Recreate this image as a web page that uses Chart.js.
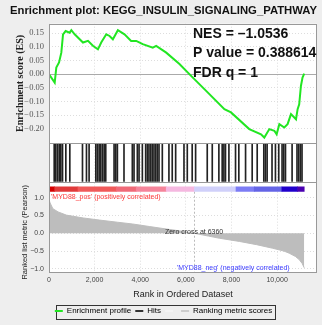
<!DOCTYPE html>
<html>
<head>
<meta charset="utf-8">
<script src="https://cdn.jsdelivr.net/npm/chart.js@4.4.1/dist/chart.umd.min.js"></script>
<style>
  html, body { margin: 0; padding: 0; background: #eeeeee; }
  #wrap { width: 322px; height: 325px; }
</style>
</head>
<body>
<div id="wrap"><canvas id="gsea" width="322" height="325"></canvas></div>
<script>
// running enrichment score (rank in list, ES)
const esRank = [0, 250, 320, 440, 540, 615, 730, 905, 980, 1125, 1490, 1710, 1925, 2145, 2290,
  2510, 2655, 2800, 3020, 3310, 3600, 3825, 4110, 4550, 4700, 5140, 5720, 6230, 6890, 7690,
  7980, 8780, 9295, 9440, 9660, 9880, 9980, 10100, 10315, 10460, 10610, 10830, 10900, 10970,
  11045, 11115, 11190];
const esScore = [0, -0.031, 0.024, 0.043, 0.079, 0.146, 0.158, 0.152, 0.161, 0.146, 0.116, 0.122,
  0.104, 0.091, 0.116, 0.146, 0.140, 0.128, 0.161, 0.146, 0.122, 0.122, 0.110, 0.097, 0.104,
  0.079, 0.037, -0.006, -0.061, -0.128, -0.140, -0.201, -0.220, -0.232, -0.201, -0.207, -0.220,
  -0.183, -0.195, -0.183, -0.146, -0.165, -0.128, -0.110, -0.043, -0.012, 0.002];

// positions of gene set members in the ranked list
const hitRanks = [250, 320, 395, 470, 540, 615, 760, 935, 1490, 1665, 1780, 2075, 2145, 2220,
  2290, 2365, 2440, 2510, 2875, 2950, 3020, 3310, 3675, 3750, 3895, 3970, 4115, 4260, 4335,
  4405, 4480, 4550, 4625, 4700, 4770, 4845, 4990, 5280, 5425, 5575, 5940, 6085, 6300, 6450,
  6960, 7180, 7470, 7615, 7690, 7760, 7910, 8200, 8345, 8640, 8930, 9150, 9440, 9510, 9585,
  9800, 9950, 10095, 10240, 10315, 10390, 10680, 10895, 10970, 11045, 11115];

// ranked list metric (Pearson)
const metricRank = [0, 50, 170, 400, 760, 1500, 2220, 3000, 3670, 4400, 5140, 5800, 6360,
  7000, 7470, 8350, 9100, 9800, 10300, 10530, 10800, 10970, 11100, 11190];
const metricScore = [0.95, 0.85, 0.69, 0.60, 0.51, 0.43, 0.37, 0.31, 0.26, 0.19, 0.12, 0.06, 0.0,
  -0.08, -0.14, -0.23, -0.32, -0.42, -0.50, -0.56, -0.65, -0.74, -0.85, -0.97];

// heat strip under the hits
const barEdges = [0, 250, 1270, 2950, 3825, 5140, 6380, 8200, 9000, 10210, 10900, 11190];
const barColors = ['#d40000', '#e03a3a', '#f05a5a', '#f06a78', '#f5849a', '#f5b8e0',
  '#d0d0fa', '#7c7cf5', '#6464e6', '#2000cc', '#4a00b0'];

// tick values
const xTicks = [0, 2000, 4000, 6000, 8000, 10000];
const esTicks = [-0.20, -0.15, -0.10, -0.05, 0.00, 0.05, 0.10, 0.15];
const rankTicks = [-1.0, -0.5, 0.0, 0.5, 1.0];

const zeroCross = 6360;
const statLines = ['NES = \u20131.0536', 'P value = 0.388614', 'FDR q = 1'];
const legendNames = ['Enrichment profile', 'Hits', '', 'Ranking metric scores'];
const legendColors = ['#22e622', '#333333', '#f4f4f4', '#cccccc'];

const minus = (s) => s.replace('-', '\u2212');
const sans = 'Liberation Sans, Arial, sans-serif';
const serif = 'Liberation Serif, Times New Roman, serif';
const fixW = (s) => { s.width = 39; };
const setTicks = (vals) => (s) => { s.ticks = vals.map(v => ({ value: v })); };

const decor = {
  id: 'decor',
  beforeDraw(chart) {
    const { ctx, chartArea: a, legend } = chart;
    ctx.save();
    ctx.fillStyle = '#eeeeee';
    ctx.fillRect(0, 0, chart.width, chart.height);
    ctx.fillStyle = '#ffffff';
    ctx.fillRect(a.left, a.top, a.right - a.left, a.bottom - a.top);
    const hb = legend.legendHitBoxes;
    if (hb && hb.length) {
      ctx.font = '8px ' + sans;
      const last = hb[hb.length - 1];
      const l = hb[0].left + 1;
      const r = last.left + 12 + ctx.measureText(legendNames[legendNames.length - 1]).width + 3;
      const t = hb[0].top - 2;
      ctx.strokeStyle = '#333';
      ctx.lineWidth = 1;
      ctx.strokeRect(Math.round(l) + 0.5, Math.round(t) + 0.5, Math.round(r - l), hb[0].height + 6);
    }
    ctx.restore();
  },
  beforeDatasetsDraw(chart) {
    const { ctx, chartArea: a, scales } = chart;
    ctx.save();
    ctx.strokeStyle = '#aaaaaa';
    ctx.lineWidth = 1;
    const y0 = Math.round(scales.yES.getPixelForValue(0)) + 0.5;
    ctx.beginPath(); ctx.moveTo(a.left, y0); ctx.lineTo(a.right, y0); ctx.stroke();
    const zx = Math.round(scales.x.getPixelForValue(zeroCross)) + 0.5;
    ctx.setLineDash([2, 2]);
    ctx.strokeStyle = '#bbbbbb';
    ctx.beginPath(); ctx.moveTo(zx, scales.yRank.top); ctx.lineTo(zx, scales.yRank.bottom); ctx.stroke();
    ctx.restore();
  },
  afterDatasetsDraw(chart) {
    const { ctx, chartArea: a, scales } = chart;
    ctx.save();
    // panel borders
    ctx.strokeStyle = '#999999';
    ctx.lineWidth = 1;
    [scales.yES.bottom, scales.yHit.bottom].forEach(y => {
      const yy = Math.round(y) + 0.5;
      ctx.beginPath(); ctx.moveTo(a.left, yy); ctx.lineTo(a.right, yy); ctx.stroke();
    });
    ctx.strokeRect(Math.round(a.left) + 0.5, Math.round(a.top) + 0.5,
      Math.round(a.right - a.left) - 1, Math.round(a.bottom - a.top) - 1);
    // stats
    ctx.fillStyle = '#111';
    ctx.font = 'bold 14px ' + sans;
    ctx.textBaseline = 'middle';
    ctx.textAlign = 'left';
    statLines.forEach((s, i) => ctx.fillText(s, 193, 34 + i * 19.5));
    // ranked panel notes
    ctx.font = '7px ' + sans;
    ctx.fillStyle = '#ff3c3c';
    ctx.fillText("'MYD88_pos' (positively correlated)", a.left + 2, scales.yRank.getPixelForValue(1.0) - 1);
    ctx.fillStyle = '#3c3cff';
    ctx.textAlign = 'right';
    ctx.fillText("'MYD88_neg' (negatively correlated)", scales.x.getPixelForValue(10550), scales.yRank.getPixelForValue(-0.97));
    ctx.fillStyle = '#333';
    ctx.textAlign = 'center';
    ctx.fillText('Zero cross at ' + zeroCross, scales.x.getPixelForValue(zeroCross), scales.yRank.getPixelForValue(0) - 1);
    ctx.restore();
  }
};

new Chart(document.getElementById('gsea'), {
  type: 'line',
  data: {
    datasets: [
      {
        label: legendNames[0], type: 'line', xAxisID: 'x', yAxisID: 'yES',
        data: esRank.map((r, i) => ({ x: r, y: esScore[i] })),
        borderColor: legendColors[0], borderWidth: 2, pointRadius: 0, tension: 0
      },
      {
        label: legendNames[1], type: 'bar', xAxisID: 'x', yAxisID: 'yHit',
        data: hitRanks.map(r => ({ x: r, y: [0, 1] })),
        backgroundColor: '#222222', barThickness: 1
      },
      {
        label: legendNames[2], type: 'bar', indexAxis: 'y', xAxisID: 'x2', yAxisID: 'yBar',
        data: barColors.map((c, i) => ({ x: [barEdges[i], barEdges[i + 1]], y: 0.5 })),
        backgroundColor: barColors, barThickness: 10
      },
      {
        label: legendNames[3], type: 'line', xAxisID: 'x', yAxisID: 'yRank',
        data: metricRank.map((r, i) => ({ x: r, y: metricScore[i] })),
        borderColor: '#bdbdbd', backgroundColor: '#bdbdbd', borderWidth: 1,
        fill: 'origin', pointRadius: 0, tension: 0
      }
    ]
  },
  options: {
    responsive: false,
    animation: false,
    devicePixelRatio: 1,
    layout: { padding: { left: 10, right: 5, top: 0, bottom: 0 } },
    plugins: {
      tooltip: { enabled: false },
      title: {
        display: true,
        text: 'Enrichment plot: KEGG_INSULIN_SIGNALING_PATHWAY',
        color: '#111',
        font: { family: sans, size: 11.4, weight: 'bold' },
        padding: { top: 4, bottom: 6 }
      },
      legend: {
        position: 'bottom',
        labels: {
          font: { family: sans, size: 8 },
          color: '#222',
          boxWidth: 8,
          boxHeight: 2,
          padding: 4,
          generateLabels: () => legendNames.map((n, i) => ({
            text: n, fillStyle: legendColors[i], strokeStyle: legendColors[i],
            lineWidth: 0, hidden: false, datasetIndex: i
          }))
        }
      }
    },
    scales: {
      x: {
        type: 'linear', position: 'bottom', min: 0, max: 11750, offset: false,
        afterBuildTicks: setTicks(xTicks),
        ticks: {
          autoSkip: false, padding: 3, maxRotation: 0,
          color: '#444', font: { family: sans, size: 7 },
          callback: (v) => v.toLocaleString('en-US')
        },
        grid: { color: '#dddddd', drawTicks: false, offset: false },
        border: { display: false, dash: [1, 2] },
        title: {
          display: true, text: 'Rank in Ordered Dataset', color: '#222',
          font: { family: sans, size: 9 }, padding: { top: 2, bottom: 3 }
        }
      },
      x2: { type: 'linear', position: 'bottom', min: 0, max: 11750, offset: false, display: false },
      yRank: {
        type: 'linear', position: 'left', stack: 'gsea', stackWeight: 82,
        min: -1.111, max: 1.167, offset: false, afterFit: fixW,
        afterBuildTicks: setTicks(rankTicks),
        ticks: {
          autoSkip: false, padding: 5, color: '#444',
          font: { family: sans, size: 7 }, callback: (v) => minus(v.toFixed(1))
        },
        grid: { color: '#dddddd', drawTicks: false },
        border: { display: false, dash: [1, 2] },
        title: {
          display: true, text: 'Ranked list metric (Pearson)', color: '#222',
          font: { family: sans, size: 7.5 }, padding: { top: 10, bottom: 0 }
        }
      },
      yBar: {
        type: 'linear', position: 'left', stack: 'gsea', stackWeight: 10,
        min: 0, max: 1, offset: false, afterFit: fixW,
        ticks: { display: false }, grid: { display: false }, border: { display: false }
      },
      yHit: {
        type: 'linear', position: 'left', stack: 'gsea', stackWeight: 39,
        min: 0, max: 1, offset: false, afterFit: fixW,
        ticks: { display: false }, grid: { display: false }, border: { display: false }
      },
      yES: {
        type: 'linear', position: 'left', stack: 'gsea', stackWeight: 121,
        min: -0.253, max: 0.185, offset: false, afterFit: fixW,
        afterBuildTicks: setTicks(esTicks),
        ticks: {
          autoSkip: false, padding: 5, color: '#555',
          font: { family: serif, size: 8.5 }, callback: (v) => minus(v.toFixed(2))
        },
        grid: { color: '#dddddd', drawTicks: false },
        border: { display: false, dash: [1, 2] },
        title: {
          display: true, text: 'Enrichment score (ES)', color: '#222',
          font: { family: serif, size: 10, weight: 'bold' }, padding: { top: 4, bottom: 0 }
        }
      }
    }
  },
  plugins: [decor]
});
</script>
</body>
</html>
